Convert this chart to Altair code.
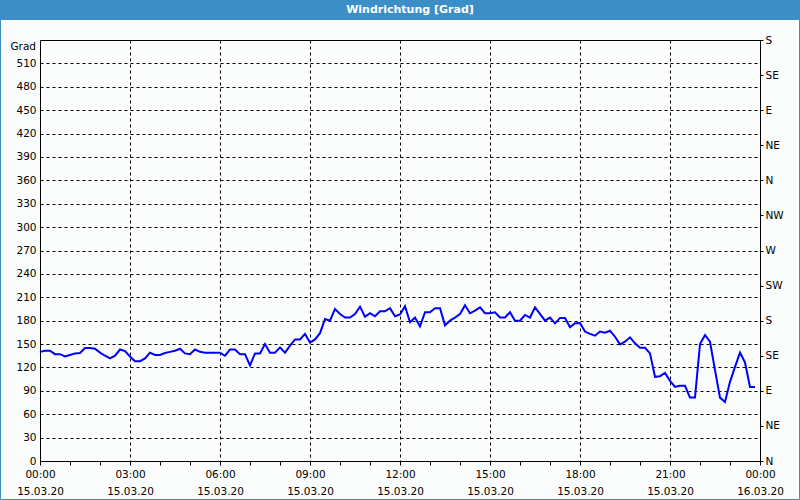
import altair as alt
import pandas as pd

# ---- data ----
times = [
    "00:00", "00:10", "00:20", "00:30", "00:40", "00:50", "01:00", "01:10", "01:20", "01:30",
    "01:40", "01:50", "02:00", "02:10", "02:20", "02:30", "02:40", "02:50", "03:00", "03:10",
    "03:20", "03:30", "03:40", "03:50", "04:00", "04:10", "04:20", "04:30", "04:40", "04:50",
    "05:00", "05:10", "05:20", "05:30", "05:40", "05:50", "06:00", "06:10", "06:20", "06:30",
    "06:40", "06:50", "07:00", "07:10", "07:20", "07:30", "07:40", "07:50", "08:00", "08:10",
    "08:20", "08:30", "08:40", "08:50", "09:00", "09:10", "09:20", "09:30", "09:40", "09:50",
    "10:00", "10:10", "10:20", "10:30", "10:40", "10:50", "11:00", "11:10", "11:20", "11:30",
    "11:40", "11:50", "12:00", "12:10", "12:20", "12:30", "12:40", "12:50", "13:00", "13:10",
    "13:20", "13:30", "13:40", "13:50", "14:00", "14:10", "14:20", "14:30", "14:40", "14:50",
    "15:00", "15:10", "15:20", "15:30", "15:40", "15:50", "16:00", "16:10", "16:20", "16:30",
    "16:40", "16:50", "17:00", "17:10", "17:20", "17:30", "17:40", "17:50", "18:00", "18:10",
    "18:20", "18:30", "18:40", "18:50", "19:00", "19:10", "19:20", "19:30", "19:40", "19:50",
    "20:00", "20:10", "20:20", "20:30", "20:40", "20:50", "21:00", "21:10", "21:20", "21:30",
    "21:40", "21:50", "22:00", "22:10", "22:20", "22:30", "22:40", "22:50", "23:00", "23:10",
    "23:20", "23:30", "23:40", "23:50",
]
direction = [
    140, 141.5, 141.5, 137, 137, 134, 136, 138, 138.5, 145,
    145, 144, 139, 135, 131.5, 135, 143, 141, 134, 128,
    128, 131.5, 139, 136, 136, 138.5, 140, 141.5, 144, 138,
    137, 143, 140, 139, 139, 139, 139, 135, 143, 143,
    137, 137, 122.5, 138, 138, 150, 139, 139, 145.7, 139,
    148, 156, 156, 163, 152, 156, 164, 182, 180, 195,
    188.6, 184, 184, 188.6, 198, 185, 189.5, 185.6, 192, 192,
    196, 185.6, 188, 198.5, 178, 184, 172.7, 190.8, 190.8, 196,
    196, 174, 180, 184, 188.6, 199.8, 189.5, 193, 197, 189.5,
    189.5, 190.8, 184, 184, 190.8, 180, 180, 187.3, 184, 197,
    188.6, 180, 184, 176.6, 183.5, 183.5, 171.5, 176.6, 177, 166,
    163, 160.7, 166, 164.6, 167, 159.4, 149.6, 153, 158.6, 151,
    145.3, 145.3, 138, 108, 108.8, 113, 102.8, 95, 96.4, 96.4,
    81.3, 81.3, 150, 161.6, 153, 116.5, 81.3, 75.7, 101.5, 120.8,
    139, 126.4, 95, 95,
]

y_ticks = [0, 30, 60, 90, 120, 150, 180, 210, 240, 270, 300, 330, 360, 390, 420, 450, 480, 510]
dir_ticks = [0, 45, 90, 135, 180, 225, 270, 315, 360, 405, 450, 495, 540]
dir_labels = ["N", "NE", "E", "SE", "S", "SW", "W", "NW", "N", "NE", "E", "SE", "S"]
hour_ticks = list(range(0, 25))
hour_labels = ["00:00", "03:00", "06:00", "09:00", "12:00", "15:00", "18:00", "21:00", "00:00"]
date_labels = ["15.03.20", "15.03.20", "15.03.20", "15.03.20", "15.03.20",
               "15.03.20", "15.03.20", "15.03.20", "16.03.20"]

title_text = "Windrichtung [Grad]"
unit_text = "Grad"

hours = [int(t[:2]) + int(t[3:]) / 60 for t in times]
df = pd.DataFrame({"h": hours, "v": direction})

FONT = "DejaVu Sans"
FS = 10.5


def js_list(lst):
    return "[" + ",".join("'" + s + "'" for s in lst) + "]"


xscale = alt.Scale(domain=[0, 24], nice=False, zero=False)
yscale = alt.Scale(domain=[0, 540], nice=False, zero=True)

x_axis = alt.Axis(
    values=hour_ticks,
    title=None,
    grid=True,
    gridColor="black",
    gridDash=[3, 3],
    gridWidth=1,
    gridOpacity={"condition": {"test": "datum.value % 3 == 0 && datum.value > 0 && datum.value < 24", "value": 1}, "value": 0},
    domain=False,
    ticks=True,
    tickColor="black",
    tickSize=4,
    labelExpr=f"datum.value % 3 == 0 ? [{js_list(hour_labels)}[datum.value/3], {js_list(date_labels)}[datum.value/3]] : ''",
    labelOverlap=False,
    labelFont=FONT,
    labelFontSize=FS,
    labelColor="black",
    labelPadding=4,
    labelLineHeight=17,
    labelBaseline="top",
    labelFlush=False,
)

y_axis_left = alt.Axis(
    values=y_ticks,
    title=None,
    grid=True,
    gridColor="black",
    gridDash=[3, 3],
    gridWidth=1,
    gridOpacity={"condition": {"test": "datum.value > 0", "value": 1}, "value": 0},
    domain=False,
    ticks=False,
    labelPadding=4,
    labelFont=FONT,
    labelFontSize=FS,
    labelColor="black",
    labelFlush=False,
    labelOverlap=False,
)

y_axis_right = alt.Axis(
    values=dir_ticks,
    orient="right",
    title=None,
    grid=False,
    domain=False,
    ticks=True,
    tickColor="black",
    tickSize=3,
    labelPadding=2,
    labelExpr=f"{js_list(dir_labels)}[round(datum.value/45)]",
    labelFont=FONT,
    labelFontSize=FS,
    labelColor="black",
    labelFlush=False,
    labelOverlap=False,
)

line = alt.Chart(df).mark_line(color="#0000ff", strokeWidth=2).encode(
    x=alt.X("h:Q", scale=xscale, axis=x_axis),
    y=alt.Y("v:Q", scale=yscale, axis=y_axis_left),
)

right = alt.Chart(df).mark_point(opacity=0).encode(
    y=alt.Y("v:Q", scale=yscale, axis=y_axis_right),
)

deco = pd.DataFrame({"a": [0]})
title_bar = alt.Chart(deco).mark_rect(color="#3c8fc6").encode(
    x=alt.value(-40), x2=alt.value(760), y=alt.value(-40), y2=alt.value(-20)
)
title_label = alt.Chart(deco).mark_text(
    text=title_text, color="white", font=FONT, fontSize=11, fontWeight="bold",
    align="center", baseline="middle"
).encode(x=alt.value(370), y=alt.value(-30))
unit_label = alt.Chart(deco).mark_text(
    text=unit_text, color="black", font=FONT, fontSize=FS, align="right", baseline="middle"
).encode(x=alt.value(-4), y=alt.value(6.5))
border = alt.Chart(deco).mark_rect(fill=None, stroke="#3c8fc6", strokeWidth=1).encode(
    x=alt.value(-39.5), x2=alt.value(759.5), y=alt.value(-40), y2=alt.value(459.5)
)

chart = alt.layer(line, right, title_bar, title_label, unit_label, border).resolve_scale(
    y="independent"
).properties(
    width=720,
    height=421,
    padding={"left": 40, "top": 40, "right": 40, "bottom": 39},
    autosize=alt.AutoSizeParams(type="none"),
    background="#fbfdfc",
).configure_view(
    stroke="black", strokeWidth=1
)

chart.save("out.html", embed_options={"renderer": "svg", "actions": False})
